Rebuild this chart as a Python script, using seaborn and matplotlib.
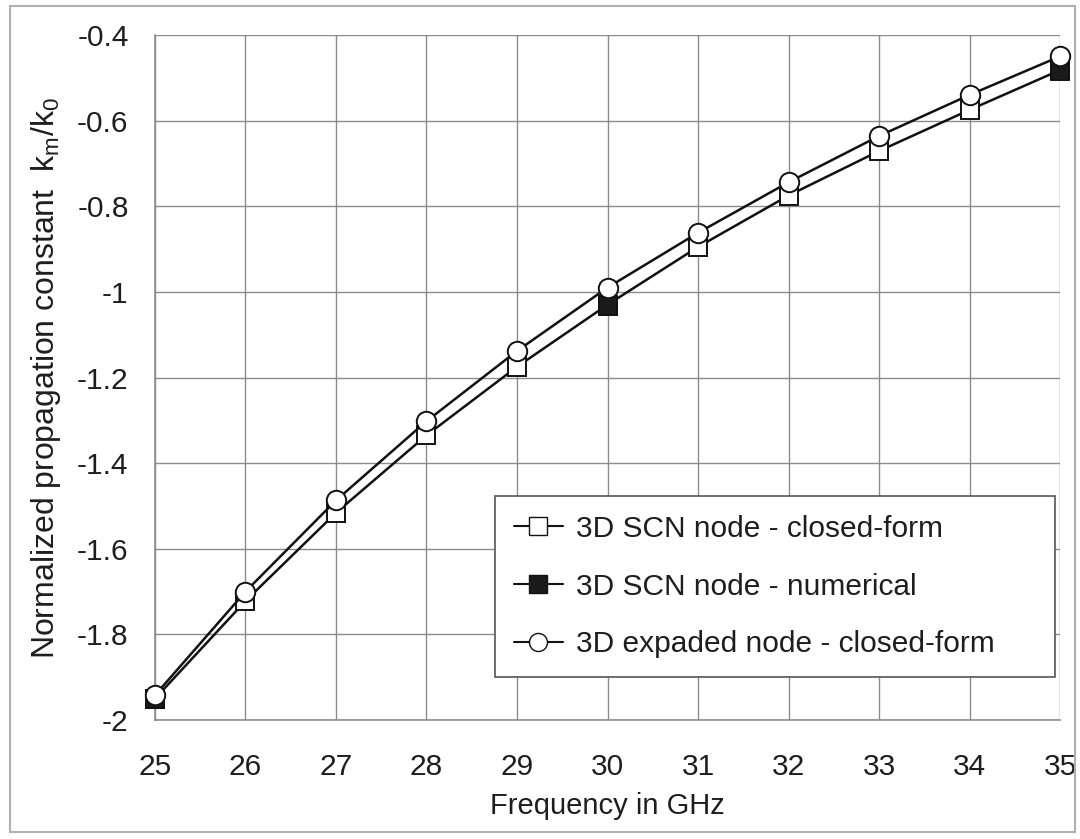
import matplotlib
matplotlib.use("Agg")
import matplotlib.pyplot as plt
from matplotlib.lines import Line2D
from matplotlib.patches import Rectangle
import seaborn as sns

# Frequency axis (GHz)
freq = [25, 26, 27, 28, 29, 30, 31, 32, 33, 34, 35]

# Normalized propagation constant km/k0
scn_closed = [-1.950, -1.722, -1.516, -1.335, -1.175, -1.030, -0.895, -0.775, -0.671, -0.575, -0.482]
expanded_closed = [-1.942, -1.700, -1.487, -1.302, -1.138, -0.990, -0.862, -0.744, -0.636, -0.540, -0.450]

# Numerical reference points
num_freq = [25, 30, 35]
scn_numerical = [-1.950, -1.033, -0.484]

labels = ["3D SCN node - closed-form",
          "3D SCN node - numerical",
          "3D expaded node - closed-form"]

sns.set_style("whitegrid")
plt.rcParams["font.family"] = ["Liberation Sans", "DejaVu Sans"]

fig = plt.figure(figsize=(10.8, 8.39), dpi=100)
ax = fig.add_axes([0.1435, 0.1418, 0.838, 0.8165])

grid_col = "#8c8c8c"
line_col = "#111111"
txt_col = "#1e1e1e"

common = dict(ax=ax, color=line_col, markeredgecolor=line_col,
              markeredgewidth=1.4, clip_on=False)
sns.lineplot(x=freq, y=scn_closed, linewidth=1.8, marker="s", markersize=13,
             markerfacecolor="white", zorder=3, **common)
sns.lineplot(x=num_freq, y=scn_numerical, linestyle="none", marker="s",
             markersize=13, markerfacecolor="#1a1a1a", zorder=4, **common)
sns.lineplot(x=freq, y=expanded_closed, linewidth=1.8, marker="o", markersize=14,
             markerfacecolor="white", zorder=5, **common)

ax.set_xlim(25, 35)
ax.set_ylim(-2, -0.4)
ax.set_xticks(freq)
ax.set_yticks([-2, -1.8, -1.6, -1.4, -1.2, -1, -0.8, -0.6, -0.4])
ax.set_yticklabels(["-2", "-1.8", "-1.6", "-1.4", "-1.2", "-1", "-0.8", "-0.6", "-0.4"])
ax.grid(True, color=grid_col, linewidth=1.0)
ax.set_axisbelow(True)
for side in ["top", "right"]:
    ax.spines[side].set_visible(False)
for side in ["left", "bottom"]:
    ax.spines[side].set_color(grid_col)
    ax.spines[side].set_linewidth(1.2)
ax.tick_params(axis="both", labelsize=21.5, colors=txt_col, length=0)
ax.tick_params(axis="x", pad=24)
ax.tick_params(axis="y", length=5, color=grid_col, pad=14)

ax.set_xlabel("Frequency in GHz", fontsize=21, color=txt_col, labelpad=8)
ax.set_ylabel("Normalized propagation constant  k$_{\\mathregular{m}}$/k$_{\\mathregular{0}}$",
              fontsize=23, color=txt_col, labelpad=10)

handles = [
    Line2D([], [], color=line_col, linewidth=1.5, marker="s", markersize=13,
           markerfacecolor="white", markeredgecolor=line_col),
    Line2D([], [], color=line_col, linewidth=1.5, marker="s", markersize=13,
           markerfacecolor="#1a1a1a", markeredgecolor=line_col),
    Line2D([], [], color=line_col, linewidth=1.5, marker="o", markersize=13,
           markerfacecolor="white", markeredgecolor=line_col),
]
leg = ax.legend(handles, labels, loc="lower left",
                bbox_to_anchor=(0.3757, 0.0628, 0.619, 0.263), mode="expand",
                fontsize=21.5, frameon=True, fancybox=False, framealpha=1,
                handlelength=1.65, handletextpad=0.45, labelspacing=1.0,
                borderpad=0.62, borderaxespad=0)
leg.get_frame().set_edgecolor("#555555")
leg.get_frame().set_linewidth(1.2)
for t in leg.get_texts():
    t.set_color(txt_col)

# Light border around the whole figure
fig.patches.append(Rectangle((0.009, 0.008), 0.986, 0.985, transform=fig.transFigure,
                             fill=False, edgecolor="#b0b0b0", linewidth=1.5))

fig.savefig("out.png", dpi=100)
